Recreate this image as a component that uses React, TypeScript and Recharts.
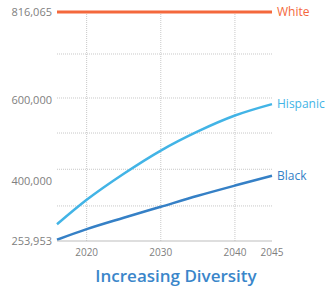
import React from "react";
import { LineChart, Line, XAxis, YAxis, CartesianGrid } from "recharts";

// ── Data ───────────────────────────────────────────────────

const YEARS = [2016, 2020, 2025, 2030, 2035, 2040, 2045];
const WHITE = [816065, 816065, 816065, 816065, 816065, 816065, 816065];
const HISPANIC = [295000, 355000, 419000, 476000, 523000, 562000, 590000];
const BLACK = [257000, 283000, 311000, 338000, 365000, 390000, 414000];

const X_TICKS = [2020, 2030, 2040, 2045];
const Y_TICKS = [253953, 400000, 600000, 816065];
const GRID_Y = [713000, 605000, 519000, 430000, 340000];
const GRID_X = [2020, 2030, 2040];

// ── Colors ─────────────────────────────────────────────────

const WHITE_COLOR = "#F4683C";
const HISPANIC_COLOR = "#42B4E6";
const BLACK_COLOR = "#3580C6";
const TITLE_COLOR = "#3A86CA";
const TICK_COLOR = "#808080";
const GRID_COLOR = "#c8c8c8";

const data = YEARS.map((year, i) => ({
  year,
  white: WHITE[i],
  hispanic: HISPANIC[i],
  black: BLACK[i],
}));

// label drawn only at the right end of each line
function endLabel(name: string, color: string) {
  return (p: any) => {
    if (p.index !== YEARS.length - 1) return null;
    const x = p.x ?? p.viewBox?.x;
    const y = p.y ?? p.viewBox?.y;
    return (
      <text
        key={name}
        x={x + 5}
        y={y}
        dy="0.36em"
        fill={color}
        fontSize={12}
        fontFamily="'Open Sans', sans-serif"
      >
        {name}
      </text>
    );
  };
}

export default function App() {
  return (
    <div style={{ position: "absolute", left: 0, top: 0, width: 325, height: 290, background: "#fff" }}>
      <LineChart width={325} height={261} data={data} margin={{ top: 12, right: 53, bottom: 0, left: 0 }}>
        <CartesianGrid
          stroke={GRID_COLOR}
          strokeDasharray="1 1"
          horizontalValues={GRID_Y}
          verticalValues={GRID_X}
        />
        <XAxis
          dataKey="year"
          type="number"
          domain={[2016, 2045]}
          ticks={X_TICKS}
          interval={0}
          height={20}
          tickLine={false}
          tickSize={0}
          tickMargin={8}
          axisLine={{ stroke: "#bdbdbd" }}
          tick={{ fill: TICK_COLOR, fontSize: 10, fontFamily: "'Open Sans', sans-serif" }}
        />
        <YAxis
          type="number"
          domain={[253953, 816065]}
          ticks={Y_TICKS}
          interval={0}
          width={57}
          axisLine={false}
          tickLine={false}
          tickSize={0}
          tickMargin={5}
          tickFormatter={(v: number) => v.toLocaleString("en-US")}
          tick={{ fill: TICK_COLOR, fontSize: 11, fontFamily: "'Open Sans', sans-serif" }}
        />
        <Line
          dataKey="white"
          type="monotone"
          stroke={WHITE_COLOR}
          strokeWidth={3}
          dot={false}
          isAnimationActive={false}
          label={endLabel("White", WHITE_COLOR)}
        />
        <Line
          dataKey="hispanic"
          type="monotone"
          stroke={HISPANIC_COLOR}
          strokeWidth={2.5}
          dot={false}
          isAnimationActive={false}
          label={endLabel("Hispanic", HISPANIC_COLOR)}
        />
        <Line
          dataKey="black"
          type="monotone"
          stroke={BLACK_COLOR}
          strokeWidth={2.5}
          dot={false}
          isAnimationActive={false}
          label={endLabel("Black", BLACK_COLOR)}
        />
      </LineChart>
      <svg width={325} height={290} style={{ position: "absolute", left: 0, top: 0, pointerEvents: "none" }}>
        <text
          x={176}
          y={282}
          textAnchor="middle"
          fill={TITLE_COLOR}
          fontSize={17}
          fontWeight={600}
          fontFamily="'Open Sans', sans-serif"
        >
          Increasing Diversity
        </text>
      </svg>
    </div>
  );
}
